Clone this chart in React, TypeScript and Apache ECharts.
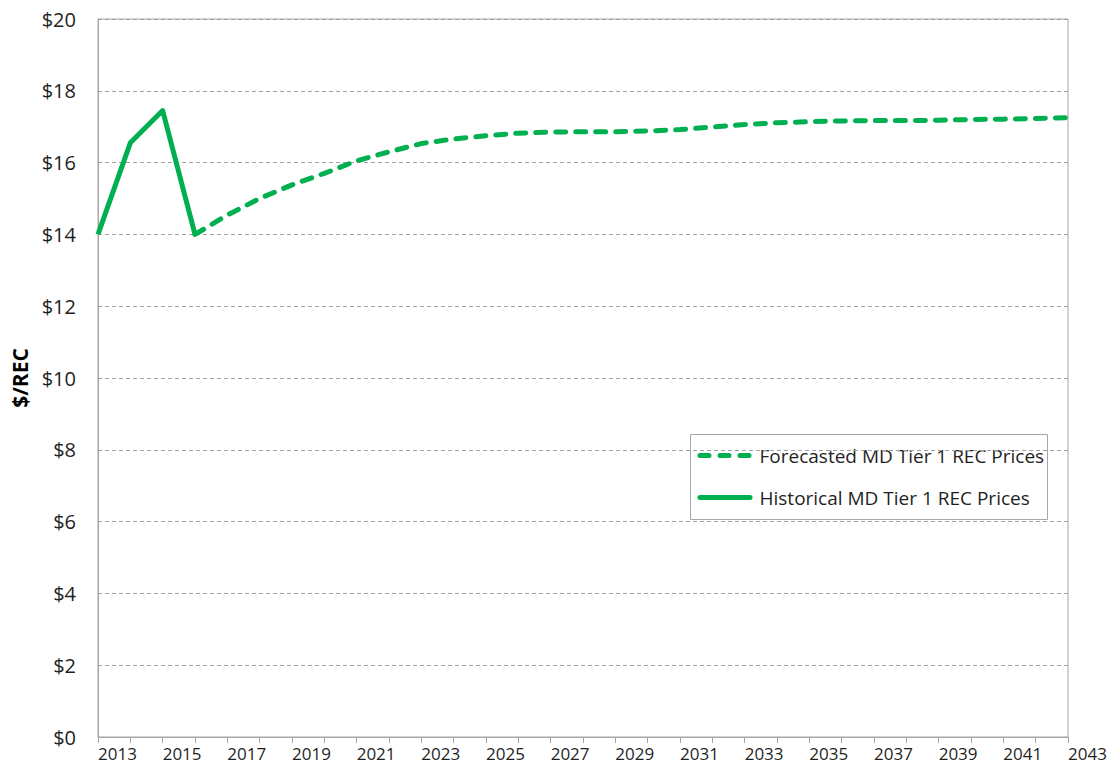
import React, { useEffect, useRef } from "react";
import * as echarts from "echarts";

const historicalYears = [2013, 2014, 2015, 2016];
const historicalPrices = [14.0, 16.55, 17.45, 14.0];

const forecastYears = [
  2016, 2017, 2018, 2019, 2020, 2021, 2022, 2023, 2024, 2025, 2026, 2027, 2028, 2029,
  2030, 2031, 2032, 2033, 2034, 2035, 2036, 2037, 2038, 2039, 2040, 2041, 2042, 2043,
];
const forecastPrices = [
  14.0, 14.54, 15.0, 15.38, 15.7, 16.05, 16.3, 16.53, 16.66, 16.75, 16.82, 16.85, 16.86, 16.86,
  16.88, 16.92, 16.99, 17.06, 17.11, 17.14, 17.16, 17.17, 17.17, 17.18, 17.2, 17.21, 17.23, 17.25,
];

const forecastName = "Forecasted MD Tier 1 REC Prices";
const historicalName = "Historical MD Tier 1 REC Prices";
const yAxisTitle = "$/REC";

const GREEN = "#00B050";
const FONT = "'Open Sans', 'Noto Sans', sans-serif";
const TEXT = "#1f1f1f";

export default function App() {
  const ref = useRef<HTMLDivElement>(null);

  useEffect(() => {
    if (!ref.current) return;
    const chart = echarts.init(ref.current, undefined, { renderer: "svg" });
    chart.setOption({
      animation: false,
      backgroundColor: "#ffffff",
      textStyle: { fontFamily: FONT },
      grid: {
        left: 98,
        right: 43,
        top: 19,
        bottom: 38,
        show: true,
        borderColor: "#a6a6a6",
        borderWidth: 1,
      },
      legend: { show: false, data: [forecastName, historicalName] },
      graphic: [
        {
          type: "group",
          left: 690,
          top: 434,
          children: [
            {
              type: "rect",
              shape: { x: 0, y: 0, width: 357, height: 85 },
              style: { fill: "#ffffff", stroke: "#a6a6a6", lineWidth: 1 },
            },
            {
              type: "line",
              shape: { x1: 9.5, y1: 21, x2: 59.5, y2: 21 },
              style: { stroke: GREEN, lineWidth: 5, lineDash: [9, 11], lineCap: "round" },
            },
            {
              type: "text",
              x: 69,
              y: 21,
              style: {
                text: forecastName,
                fontFamily: FONT,
                fontSize: 19,
                fill: TEXT,
                verticalAlign: "middle",
                align: "left",
              },
            },
            {
              type: "line",
              shape: { x1: 9.5, y1: 63, x2: 59.5, y2: 63 },
              style: { stroke: GREEN, lineWidth: 5, lineCap: "round" },
            },
            {
              type: "text",
              x: 69,
              y: 63,
              style: {
                text: historicalName,
                fontFamily: FONT,
                fontSize: 19,
                fill: TEXT,
                verticalAlign: "middle",
                align: "left",
              },
            },
          ],
        },
      ],
      xAxis: {
        type: "value",
        min: 2013,
        max: 2043,
        interval: 1,
        axisLine: { show: true, lineStyle: { color: "#a6a6a6" } },
        axisTick: { show: true, length: 6, lineStyle: { color: "#a6a6a6" } },
        splitLine: { show: false },
        axisLabel: {
          align: "left",
          fontFamily: FONT,
          fontSize: 17,
          color: TEXT,
          margin: 8,
          showMaxLabel: true,
          showMinLabel: true,
          formatter: (v: number) => ((v - 2013) % 2 === 0 ? String(v) : ""),
        },
      },
      yAxis: {
        type: "value",
        min: 0,
        max: 20,
        interval: 2,
        name: yAxisTitle,
        nameLocation: "middle",
        nameGap: 67,
        nameTextStyle: { fontFamily: FONT, fontSize: 21, fontWeight: "bold", color: "#000" },
        axisLine: { show: true, lineStyle: { color: "#a6a6a6" } },
        axisTick: { show: false },
        splitLine: { show: true, lineStyle: { color: "#a0a0a0", type: [4, 3], width: 1 } },
        axisLabel: {
          fontFamily: FONT,
          fontSize: 20,
          color: TEXT,
          margin: 22,
          formatter: (v: number) => "$" + v,
        },
      },
      series: [
        {
          name: forecastName,
          type: "line",
          data: forecastYears.map((y, i) => [y, forecastPrices[i]]),
          showSymbol: false,
          symbol: "none",
          lineStyle: { color: GREEN, width: 5, type: [10, 10], cap: "round" },
          itemStyle: { color: GREEN },
          z: 3,
        },
        {
          name: historicalName,
          type: "line",
          data: historicalYears.map((y, i) => [y, historicalPrices[i]]),
          showSymbol: false,
          symbol: "none",
          lineStyle: { color: GREEN, width: 5, type: "solid", join: "round" },
          itemStyle: { color: GREEN },
          z: 4,
        },
      ],
    });
    return () => chart.dispose();
  }, []);

  return (
    <div
      ref={ref}
      style={{ position: "fixed", left: 0, top: 0, width: 1111, height: 775 }}
    />
  );
}
